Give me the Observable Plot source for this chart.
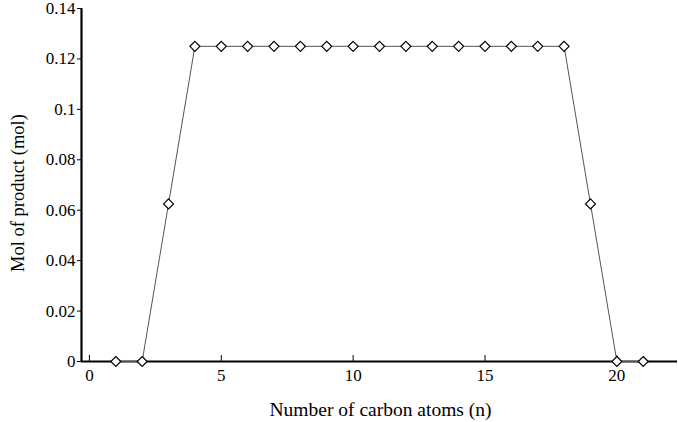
<!DOCTYPE html>
<html>
<head>
<meta charset="utf-8">
<script src="https://cdn.jsdelivr.net/npm/d3@7"></script>
<script src="https://cdn.jsdelivr.net/npm/@observablehq/plot@0.6"></script>
<style>
  html, body { margin: 0; padding: 0; background: #fff; }
  svg { display: block; }
</style>
</head>
<body>
<div id="chart"></div>
<script>
const carbonAtoms = [1,2,3,4,5,6,7,8,9,10,11,12,13,14,15,16,17,18,19,20,21];
const molProduct = [0,0,0.0625,0.125,0.125,0.125,0.125,0.125,0.125,0.125,0.125,0.125,0.125,0.125,0.125,0.125,0.125,0.125,0.0625,0,0];
const xTicks = [0,5,10,15,20];
const yTicks = [0,0.02,0.04,0.06,0.08,0.1,0.12,0.14];
const yTickLabels = ["0","0.02","0.04","0.06","0.08","0.1","0.12","0.14"];
const xDomain = [-0.3, 22.3];
const yDomain = [0, 0.14];

const data = carbonAtoms.map((n, i) => ({n, mol: molProduct[i]}));

const chart = Plot.plot({
  width: 678,
  height: 422,
  marginLeft: 81,
  marginRight: 1,
  marginTop: 8,
  marginBottom: 61,
  style: {fontFamily: "'Liberation Serif', 'Times New Roman', serif", fontSize: "17px", color: "#000", background: "#fff"},
  x: {domain: xDomain},
  y: {domain: yDomain},
  marks: [
    Plot.axisX({ticks: xTicks, tickSize: -6, tickPadding: 13, tickFormat: d => String(d), label: null, fontSize: 17}),
    Plot.axisY({ticks: yTicks, tickSize: 4, tickPadding: 2, tickFormat: d => yTickLabels[yTicks.indexOf(d)], label: null, fontSize: 17}),
    Plot.text(["Number of carbon atoms (n)"], {frameAnchor: "bottom", textAnchor: "middle", dx: 1, dy: 54, fontSize: 19.5, text: d => d}),
    Plot.text(["Mol of product (mol)"], {frameAnchor: "left", textAnchor: "middle", lineAnchor: "middle", dx: -63, dy: 8, rotate: -90, fontSize: 18.5, text: d => d}),
    Plot.ruleY([yDomain[0]], {stroke: "#000", strokeWidth: 2.2}),
    Plot.ruleX([xDomain[0]], {stroke: "#000", strokeWidth: 2.2}),
    Plot.line(data, {x: "n", y: "mol", stroke: "#555", strokeWidth: 1}),
    Plot.dot(data, {x: "n", y: "mol", symbol: "diamond2", r: 4.5, stroke: "#000", strokeWidth: 1.2, fill: "#fff"})
  ]
});
document.getElementById("chart").appendChild(chart);
</script>
</body>
</html>
